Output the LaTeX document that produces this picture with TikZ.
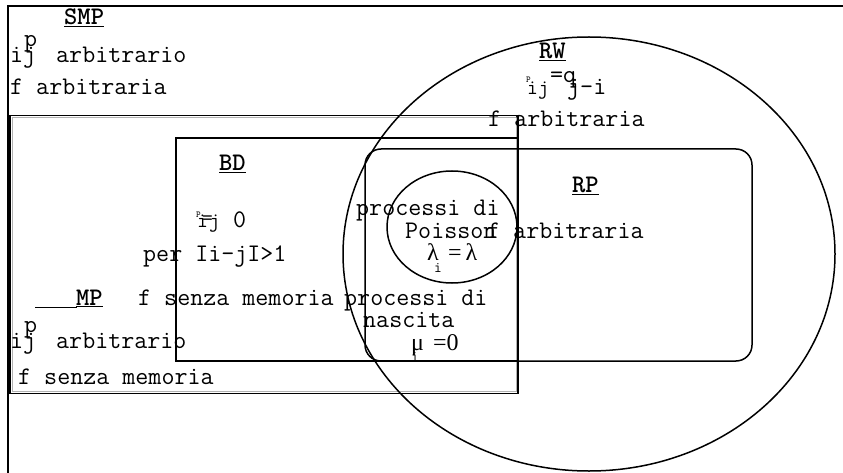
\documentclass[tikz,border=0pt]{standalone}
\usepackage{fontspec}
\setmainfont{Liberation Serif}
\begin{document}
\begin{tikzpicture}[x=1pt,y=-1pt,
  txt/.style={font=\ttfamily\fontsize{25.3}{29}\selectfont, inner sep=0pt, anchor=base west},
  small/.style={font=\ttfamily\fontsize{21}{24}\selectfont, inner sep=0pt, anchor=base west},
  sub/.style={font=\ttfamily\fontsize{15}{17}\selectfont, inner sep=0pt, anchor=base west},
  tiny/.style={font=\ttfamily\fontsize{9}{10}\selectfont, inner sep=0pt, anchor=base west},
  head/.style={font=\ttfamily\bfseries\fontsize{25.3}{29}\selectfont, inner sep=0pt, anchor=base west},
  ser/.style={font=\rmfamily\fontsize{24}{28}\selectfont, inner sep=0pt, anchor=base west},
  setline/.style={line width=1.5pt}]
\useasboundingbox (0,0) rectangle (843,473);

% SMP: outer frame, open to the right and bottom
\begin{scope}
  \clip (0,0) rectangle (843,473);
  \draw[line width=2pt] (8,6) rectangle (880,520);
\end{scope}

% MP box with its grey inner rule
\draw[gray!60, line width=0.8pt] (12,117) rectangle (516.5,391.5);
\draw[line width=1.3pt] (10,115.5) rectangle (518,393.5);

% BD box
\draw[setline] (176,138) rectangle (518,361);

% RP rounded box
\draw[setline, rounded corners=16pt] (365,149) rectangle (752,361);

% RW ellipse
\draw[setline] (589,254) ellipse [x radius=246, y radius=217];

% Poisson ellipse
\draw[setline] (452,227) ellipse [x radius=65, y radius=56];

% --- SMP texts
\node[head] (smp) at (64,25) {\underline{SMP}};
\node[txt] (smpij) at (10,63) {ij};
\node[txt] (smpp) at (24,47) {p};
\node[txt] (smparb) at (56,63) {arbitrario};
\node[txt] (smpf) at (10,95) {f arbitraria};

% --- RW texts
\node[head] (rw) at (539,59) {\underline{RW}};
\node[tiny] (rwP) at (526,83) {P};
\node[small] (rwij) at (527,95) {ij};
\node[txt] (rweq) at (550,83) {=q};
\node[txt] (rwji) at (567,95) {j-i};
\node[txt] (rwf) at (488,127) {f arbitraria};

% --- BD texts
\node[head] (bd) at (219,171) {\underline{BD}};
\node[tiny] (bdP) at (196,218) {P};
\node[small] (bdi) at (197,227) {i};
\node[small] (bdeq) at (202,224) {=};
\node[small] (bdj) at (209,227) {j};
\node[txt] (bdzero) at (233,227) {0};
\node[txt] (bdper) at (143,261) {per Ii-jI>1};

% --- RP texts
\node[head] (rp) at (572,193) {\underline{RP}};
\node[txt] (rpf) at (487,238) {f arbitraria};

% --- Poisson processes
\node[txt] (pp1) at (356,215) {processi di};
\node[txt] (pp2) at (405,238) {Poisson};
\node[ser] (lam) at (427,260) {λ};
\node[sub] (lami) at (434,272) {i};
\node[ser] (lameq) at (448,260) {=\,λ};

% --- MP texts
\draw[line width=1pt] (35,307.5) -- (77,307.5);
\node[head] (mp) at (76,305) {\underline{MP}};
\node[txt] (mpf) at (138,305) {f senza memoria};
\node[txt] (mpij) at (10,348) {ij};
\node[txt] (mpp) at (24,332) {p};
\node[txt] (mparb) at (56,348) {arbitrario};
\node[txt] (mpf2) at (18,384) {f senza memoria};

% --- birth processes
\node[txt] (bp1) at (344,305) {processi di};
\node[txt] (bp2) at (363,327) {nascita};
\node[ser] (mu) at (411,350) {μ};
\node[sub] (mui) at (411,361) {i};
\node[ser] (mueq) at (433,350) {=0};
\end{tikzpicture}
\end{document}
